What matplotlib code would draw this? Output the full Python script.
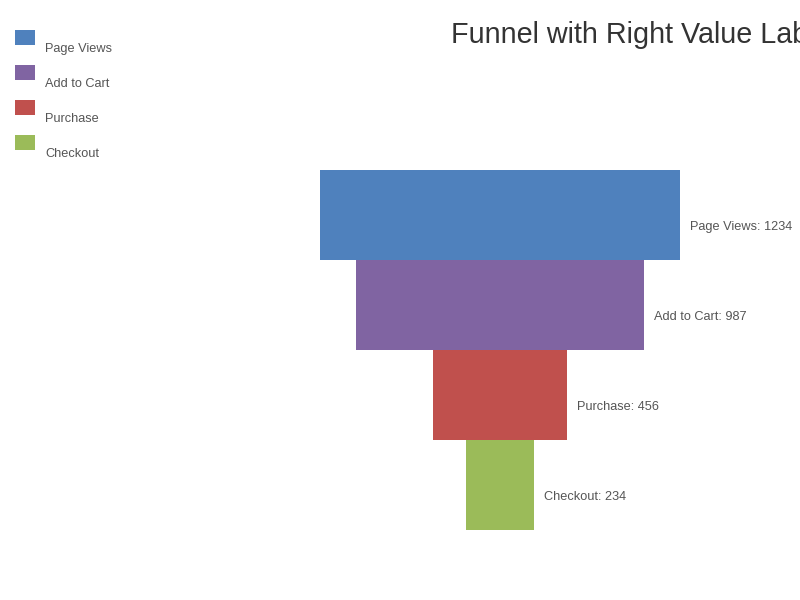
import matplotlib
matplotlib.use("Agg")
import matplotlib.pyplot as plt
from matplotlib.patches import Rectangle

stages = ["Page Views", "Add to Cart", "Purchase", "Checkout"]
values = [1234, 987, 456, 234]
colors = ["#4F81BD", "#8064A2", "#C0504D", "#9BBB59"]
title = "Funnel with Right Value Labels"

plt.rcParams['font.family'] = ['Liberation Sans', 'DejaVu Sans']

W, H = 800, 600
fig = plt.figure(figsize=(8, 6), dpi=100)
ax = fig.add_axes([0, 0, 1, 1])

# pixel scale: widest bar spans 360 px, centred at x=500 px
px_per_unit = 360 / max(values)
cx = 500
ax.set_xlim(-cx / px_per_unit, (W - cx) / px_per_unit)
row_px = 90
first_center = 215
ax.set_ylim((H - first_center) / row_px, -first_center / row_px)
ax.axis("off")

ypos = list(range(len(stages)))
ax.barh(ypos, values, left=[-v / 2 for v in values], height=1.0,
        color=colors, edgecolor="none")

for y, s, v in zip(ypos, stages, values):
    ax.annotate(f"{s}: {v}", xy=(v / 2, y), xytext=(7.2, -9.0),
                textcoords="offset points", ha="left", va="center",
                fontsize=9.2, color="#555555")

# legend (manual, text below each swatch)
for i, (s, c) in enumerate(zip(stages, colors)):
    top = 30 + 35 * i
    fig.patches.append(Rectangle((15 / W, 1 - (top + 15) / H), 20 / W, 15 / H,
                                 transform=fig.transFigure, facecolor=c,
                                 edgecolor="none"))
    fig.text(45 / W, 1 - (top + 19) / H, s, ha="left", va="center",
             fontsize=9.2, color="#555555")

fig.text(451 / W, 1 - 43 / H, title, ha="left", va="baseline",
         fontsize=20.7, color="#333333")

fig.savefig("out.png", dpi=100)
